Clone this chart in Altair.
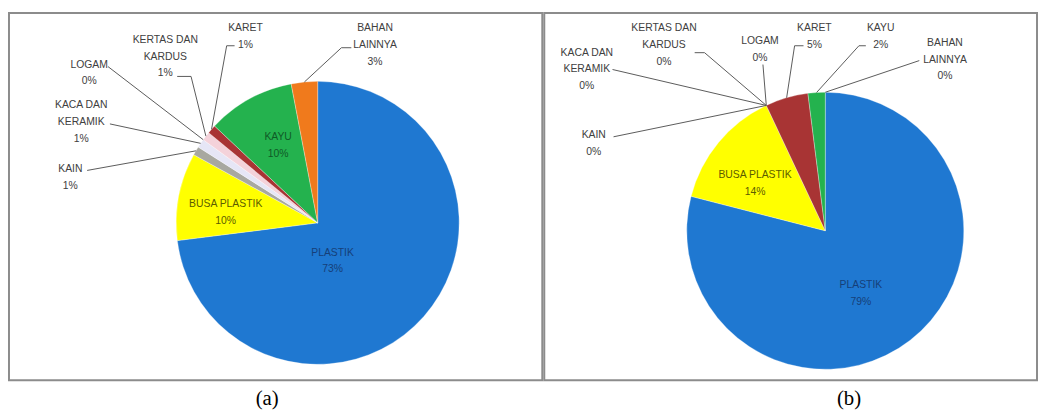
import math
import altair as alt
import pandas as pd

# ---------------- data ----------------
categories = ["PLASTIK", "BUSA PLASTIK", "KAIN", "KACA DAN KERAMIK", "LOGAM",
              "KERTAS DAN KARDUS", "KARET", "KAYU", "BAHAN LAINNYA"]
values_a = [73, 10, 1, 1, 0, 1, 1, 10, 3]
values_b = [79, 14, 0, 0, 0, 0, 5, 2, 0]
captions = ["(a)", "(b)"]

label_lines = {
    "PLASTIK": ["PLASTIK"],
    "BUSA PLASTIK": ["BUSA PLASTIK"],
    "KAIN": ["KAIN"],
    "KACA DAN KERAMIK": ["KACA DAN", "KERAMIK"],
    "LOGAM": ["LOGAM"],
    "KERTAS DAN KARDUS": ["KERTAS DAN", "KARDUS"],
    "KARET": ["KARET"],
    "KAYU": ["KAYU"],
    "BAHAN LAINNYA": ["BAHAN", "LAINNYA"],
}

# ---------------- styles ----------------
slice_colors = ["#1f78d1", "#ffff00", "#a8a8a0", "#e6e6f6", "#c8c8c8",
                "#f4d2da", "#a83434", "#24b24e", "#f07a1c"]
outside_text = "#404040"
inside_text = {"PLASTIK": "#163f78", "BUSA PLASTIK": "#5c5c00", "KAYU": "#0f5a26"}

# ---------------- layout (page coordinates) ----------------
Y0, Y1 = 10, 381
LINE_H = 17
lab_a = {
    "KAIN": (70, 168, [(87, 169)]),
    "KACA DAN KERAMIK": (81, 103, [(110, 122)]),
    "LOGAM": (89, 62, [(108, 64)]),
    "KERTAS DAN KARDUS": (166, 37, [(178, 74), (192, 74)]),
    "KARET": (247, 25, [(236, 43), (228, 43)]),
    "BAHAN LAINNYA": (378, 25, [(354, 45), (344, 45)]),
    "KAYU": (280, 135, None),
    "BUSA PLASTIK": (227, 203, None),
    "PLASTIK": (335, 252, None),
}
lab_b = {
    "KAIN": (597, 133, [(617, 135)]),
    "KACA DAN KERAMIK": (590, 50, [(616, 67)]),
    "LOGAM": (765, 38, [(768, 62)]),
    "KERTAS DAN KARDUS": (668, 25, [(699, 50), (709, 50)]),
    "KARET": (820, 25, [(809, 43), (800, 43)]),
    "KAYU": (887, 25, [(872, 43), (865, 43)]),
    "BAHAN LAINNYA": (952, 40, [(926, 58)]),
    "BUSA PLASTIK": (760, 174, None),
    "PLASTIK": (867, 285, None),
}
panels = [
    dict(values=values_a, caption=captions[0], x0=8, x1=547, cx=320, cy=222, r=143, labels=lab_a, dx=-8.5),
    dict(values=values_b, caption=captions[1], x0=547, x1=1045, cx=831, cy=230, r=140, labels=lab_b, dx=59),
]


def make_panel(p):
    vals = p["values"]
    rows, cum = [], 0
    for i, (c, v) in enumerate(zip(categories, vals)):
        rows.append(dict(idx=i, category=c, value=v, start=cum, end=cum + v,
                         cx=p["cx"], cy=p["cy"]))
        cum += v
    df = pd.DataFrame(rows)

    line_rows, text_rows = [], []
    for _, row in df.iterrows():
        c = row["category"]
        lx, ly, pts = p["labels"][c]
        mid = (row["start"] + row["end"]) / 2.0 / 100.0 * 2 * math.pi
        ex = p["cx"] + p["r"] * math.sin(mid)
        ey = p["cy"] - p["r"] * math.cos(mid)
        if pts:
            allpts = list(pts) + [(ex, ey)]
            for k, (px, py) in enumerate(allpts):
                line_rows.append(dict(lid=c, k=k, x=px, y=py))
            col = outside_text
        else:
            col = inside_text.get(c, outside_text)
        lines = label_lines[c] + [f"{int(row['value'])}%"]
        for j, t in enumerate(lines):
            text_rows.append(dict(t=t, x=lx, y=ly + j * LINE_H, tc=col))
    ldf = pd.DataFrame(line_rows)
    tdf = pd.DataFrame(text_rows)

    xs = alt.Scale(domain=[p["x0"], p["x1"]], nice=False, zero=False)
    ys = alt.Scale(domain=[Y0, Y1], nice=False, zero=False, reverse=True)

    arc = alt.Chart(df).transform_filter("datum.value > 0").mark_arc(
        radius=p["r"], stroke="#ffffff", strokeWidth=0.6, strokeOpacity=0.5
    ).encode(
        x=alt.X("cx:Q", scale=xs, axis=None),
        y=alt.Y("cy:Q", scale=ys, axis=None),
        theta=alt.Theta("start:Q", scale=alt.Scale(domain=[0, 100], range=[0, 2 * math.pi])),
        theta2="end:Q",
        color=alt.Color("category:N", scale=alt.Scale(domain=categories, range=slice_colors), legend=None),
    )

    leaders = alt.Chart(ldf).mark_line(color="#5a5a5a", strokeWidth=1).encode(
        x=alt.X("x:Q", scale=xs, axis=None),
        y=alt.Y("y:Q", scale=ys, axis=None),
        detail="lid:N",
        order="k:Q",
    )

    texts = alt.Chart(tdf).mark_text(
        font="Liberation Sans", fontSize=10.5, align="center", baseline="middle"
    ).encode(
        x=alt.X("x:Q", scale=xs, axis=None),
        y=alt.Y("y:Q", scale=ys, axis=None),
        text="t:N",
        color=alt.Color("tc:N", scale=None, legend=None),
    )

    return alt.layer(arc, leaders, texts).resolve_scale(color="independent").properties(
        width=p["x1"] - p["x0"],
        height=Y1 - Y0,
        title=alt.TitleParams(
            text=p["caption"], orient="bottom", anchor="middle",
            font="Liberation Serif", fontSize=21, fontWeight="normal",
            color="#000000", offset=8, dx=p["dx"],
        ),
    )


chart = alt.hconcat(*[make_panel(p) for p in panels], spacing=0).configure_view(
    stroke="#8c8c8c", strokeWidth=2
).properties(
    padding={"left": 0, "top": 2, "right": 0, "bottom": 0},
    background="white",
)

chart.save("out.html", embed_options={"renderer": "svg", "actions": False})
